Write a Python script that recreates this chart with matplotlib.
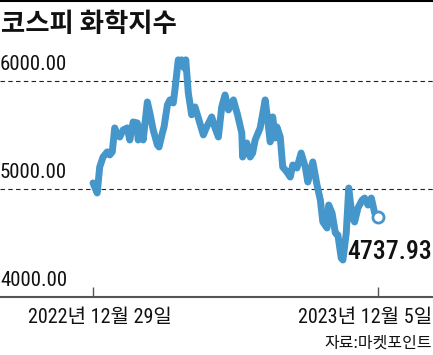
import matplotlib
matplotlib.use("Agg")
import matplotlib.pyplot as plt
from matplotlib import font_manager
from matplotlib.lines import Line2D

# 코스피 화학지수 (2022-12-29 ~ 2023-12-05), 시작일로부터 경과일 기준
days = [0, 5, 8, 12, 17, 20, 23, 26, 29, 32, 36, 41, 44, 48, 53, 54, 59, 60,
        65, 68, 72, 77, 79, 83, 85, 89, 92, 96, 98, 102, 104, 106, 109, 111,
        114, 118, 122, 126, 132, 136, 142, 146, 150, 154, 158, 162, 168, 173,
        178, 179, 184, 188, 191, 194, 200, 206, 209, 212, 215, 218, 220, 224,
        227, 232, 236, 239, 244, 249, 254, 257, 263, 268, 272, 275, 280, 282,
        286, 290, 293, 297, 299, 303, 306, 310, 313, 317, 322, 325, 329, 333,
        337, 341]
values = [5056, 4963, 5204, 5297, 5344, 5316, 5344, 5567, 5501, 5483, 5548,
          5567, 5455, 5622, 5613, 5455, 5576, 5455, 5808, 5706, 5548, 5409,
          5390, 5520, 5576, 5780, 5827, 5799, 5920, 6199, 6180, 6199, 6124,
          6199, 5893, 5689, 5762, 5660, 5502, 5576, 5669, 5567, 5483, 5762,
          5873, 5734, 5827, 5687, 5520, 5297, 5427, 5297, 5334, 5455, 5567,
          5827, 5641, 5437, 5669, 5474, 5576, 5483, 5204, 5158, 5111, 5223,
          5195, 5334, 5204, 5065, 5251, 5037, 4898, 4694, 4638, 4851, 4777,
          4591, 4573, 4359, 4341, 4591, 5009, 4740, 4694, 4824, 4898, 4916,
          4851, 4916, 4777, 4737.93]

grid_levels = [4000, 5000, 6000]
grid_labels = ["4000.00", "5000.00", "6000.00"]
tick_days = [0, 341]
tick_labels = ["2022년 12월 29일", "2023년 12월 5일"]
last_label = "4737.93"

# 폰트: 좁은 숫자 폰트가 있으면 사용
names = {f.name for f in font_manager.fontManager.ttflist}
num_font = "Liberation Sans"
for cand in ["Liberation Sans Narrow", "Roboto Condensed", "Archivo Narrow"]:
    if cand in names:
        num_font = cand
        break
kr_font = "Noto Sans CJK KR"
fam = [num_font, kr_font]

W, H = 433, 355
blue = "#4596cb"

fig = plt.figure(figsize=(W / 100, H / 100), dpi=100)
ax = fig.add_axes([0, (H - 296.7) / H, 1, (296.7 - 38.2) / H])

ax.plot(days, values, color=blue, linewidth=5, solid_joinstyle="round",
        solid_capstyle="round", zorder=3)
ax.plot(days[-1], values[-1], "o", markersize=8, markerfacecolor="white",
        markeredgecolor=blue, markeredgewidth=2, zorder=4)

ax.set_xlim(-111.3, 406.8)
ax.set_ylim(4000, 6400)

for lv in grid_levels[1:]:
    ax.axhline(lv, color="#222222", linewidth=0.8, linestyle=(0, (4, 3)), zorder=1)

for lv, lab in zip(grid_levels, grid_labels):
    ax.annotate(lab, xy=(0, lv), xycoords=("axes fraction", "data"),
                xytext=(0, 5), textcoords="offset points",
                ha="left", va="bottom", fontsize=15, family=fam, color="#111111")

for s in ["top", "right", "left"]:
    ax.spines[s].set_visible(False)
ax.spines["bottom"].set_color("#555555")
ax.spines["bottom"].set_linewidth(1.5)
ax.set_yticks([])
ax.set_xticks(tick_days)
ax.set_xticklabels([])
ax.tick_params(axis="x", direction="in", length=7, width=1, color="#555555")

# x 라벨
fig.text(100 / W, 1 - 317 / H, tick_labels[0], ha="center", va="center",
         fontsize=14.5, family=fam, color="#111111")
fig.text(432 / W, 1 - 317 / H, tick_labels[1], ha="right", va="center",
         fontsize=14.5, family=fam, color="#111111")

# 마지막 값
ax.annotate(last_label, xy=(days[-1], values[-1]), xytext=(432 / W, 1 - 252 / H),
            textcoords="figure fraction", ha="right", va="center",
            fontsize=18.5, fontweight="medium", family=fam, color="#111111")

# 제목, 출처
fig.text(1 / W, 1 - 25 / H, "코스피 화학지수", ha="left", va="center",
         fontsize=19, fontweight="bold", family=kr_font, color="#111111")
fig.text(432 / W, 1 - 343 / H, "자료:마켓포인트", ha="right", va="center",
         fontsize=11.5, family=kr_font, color="#111111")
fig.add_artist(Line2D([0, 1], [1 - 1 / H, 1 - 1 / H], color="black",
                      linewidth=1.5, transform=fig.transFigure))

fig.savefig("out.png", dpi=100)
